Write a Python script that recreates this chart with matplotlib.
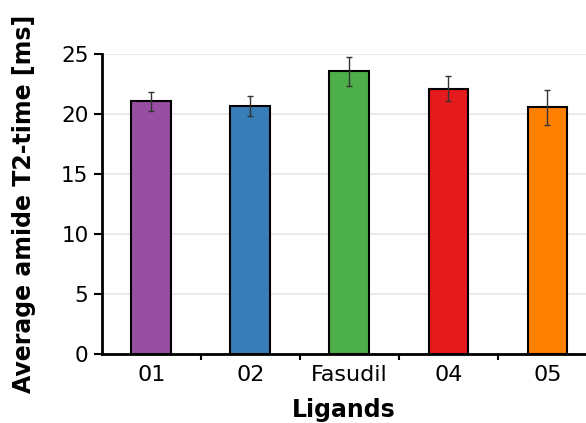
import matplotlib
matplotlib.use("Agg")
import matplotlib.pyplot as plt
import numpy as np

categories = ["01", "02", "Fasudil", "04", "05"]
values = [21.1, 20.7, 23.6, 22.15, 20.6]
errors = [0.8, 0.85, 1.2, 1.08, 1.45]
colors = ["#984EA3", "#377EB8", "#4DAF4A", "#E41A1C", "#FF7F00"]
yticks = [0, 5, 10, 15, 20, 25]

plt.rcParams['font.family'] = ['DejaVu Sans']
fig = plt.figure(figsize=(5.86, 4.23), dpi=100)
ax = fig.add_axes([0.1735, 0.1624, 1 - 0.1735, 0.8716 - 0.1624])

x = np.arange(len(categories))
ax.bar(x, values, width=0.4, color=colors, edgecolor="black", linewidth=1.5, zorder=3)
ax.errorbar(x, values, yerr=errors, fmt="none", ecolor="#333333", elinewidth=1.0,
            capsize=2.5, capthick=1.0, zorder=4)

ax.set_xlim(-0.5, 4.39)
ax.set_ylim(0, 25)
ax.set_yticks(yticks)
ax.set_xticks(x)
ax.set_xticklabels(categories)
ax.set_xticks(np.arange(0.5, 4.5, 1.0), minor=True)
ax.tick_params(axis="x", which="major", length=0, labelsize=16, pad=8)
ax.tick_params(axis="x", which="minor", length=4, width=1.5, direction="out")
ax.tick_params(axis="y", which="major", length=6, width=1.5, labelsize=15.5, pad=3.5)

ax.grid(axis="y", color="#e6e6e6", linewidth=1.2, zorder=0)
for s in ["top", "right"]:
    ax.spines[s].set_visible(False)
ax.spines["left"].set_linewidth(2)
ax.spines["bottom"].set_linewidth(2)

ax.set_xlabel("Ligands", fontsize=17, fontweight="bold", labelpad=9)
ax.set_ylabel("Average amide T2-time [ms]", fontsize=17, fontweight="bold", labelpad=8)
ax.yaxis.set_label_coords(-0.136, 0.5)

fig.savefig("out.png", dpi=100)
